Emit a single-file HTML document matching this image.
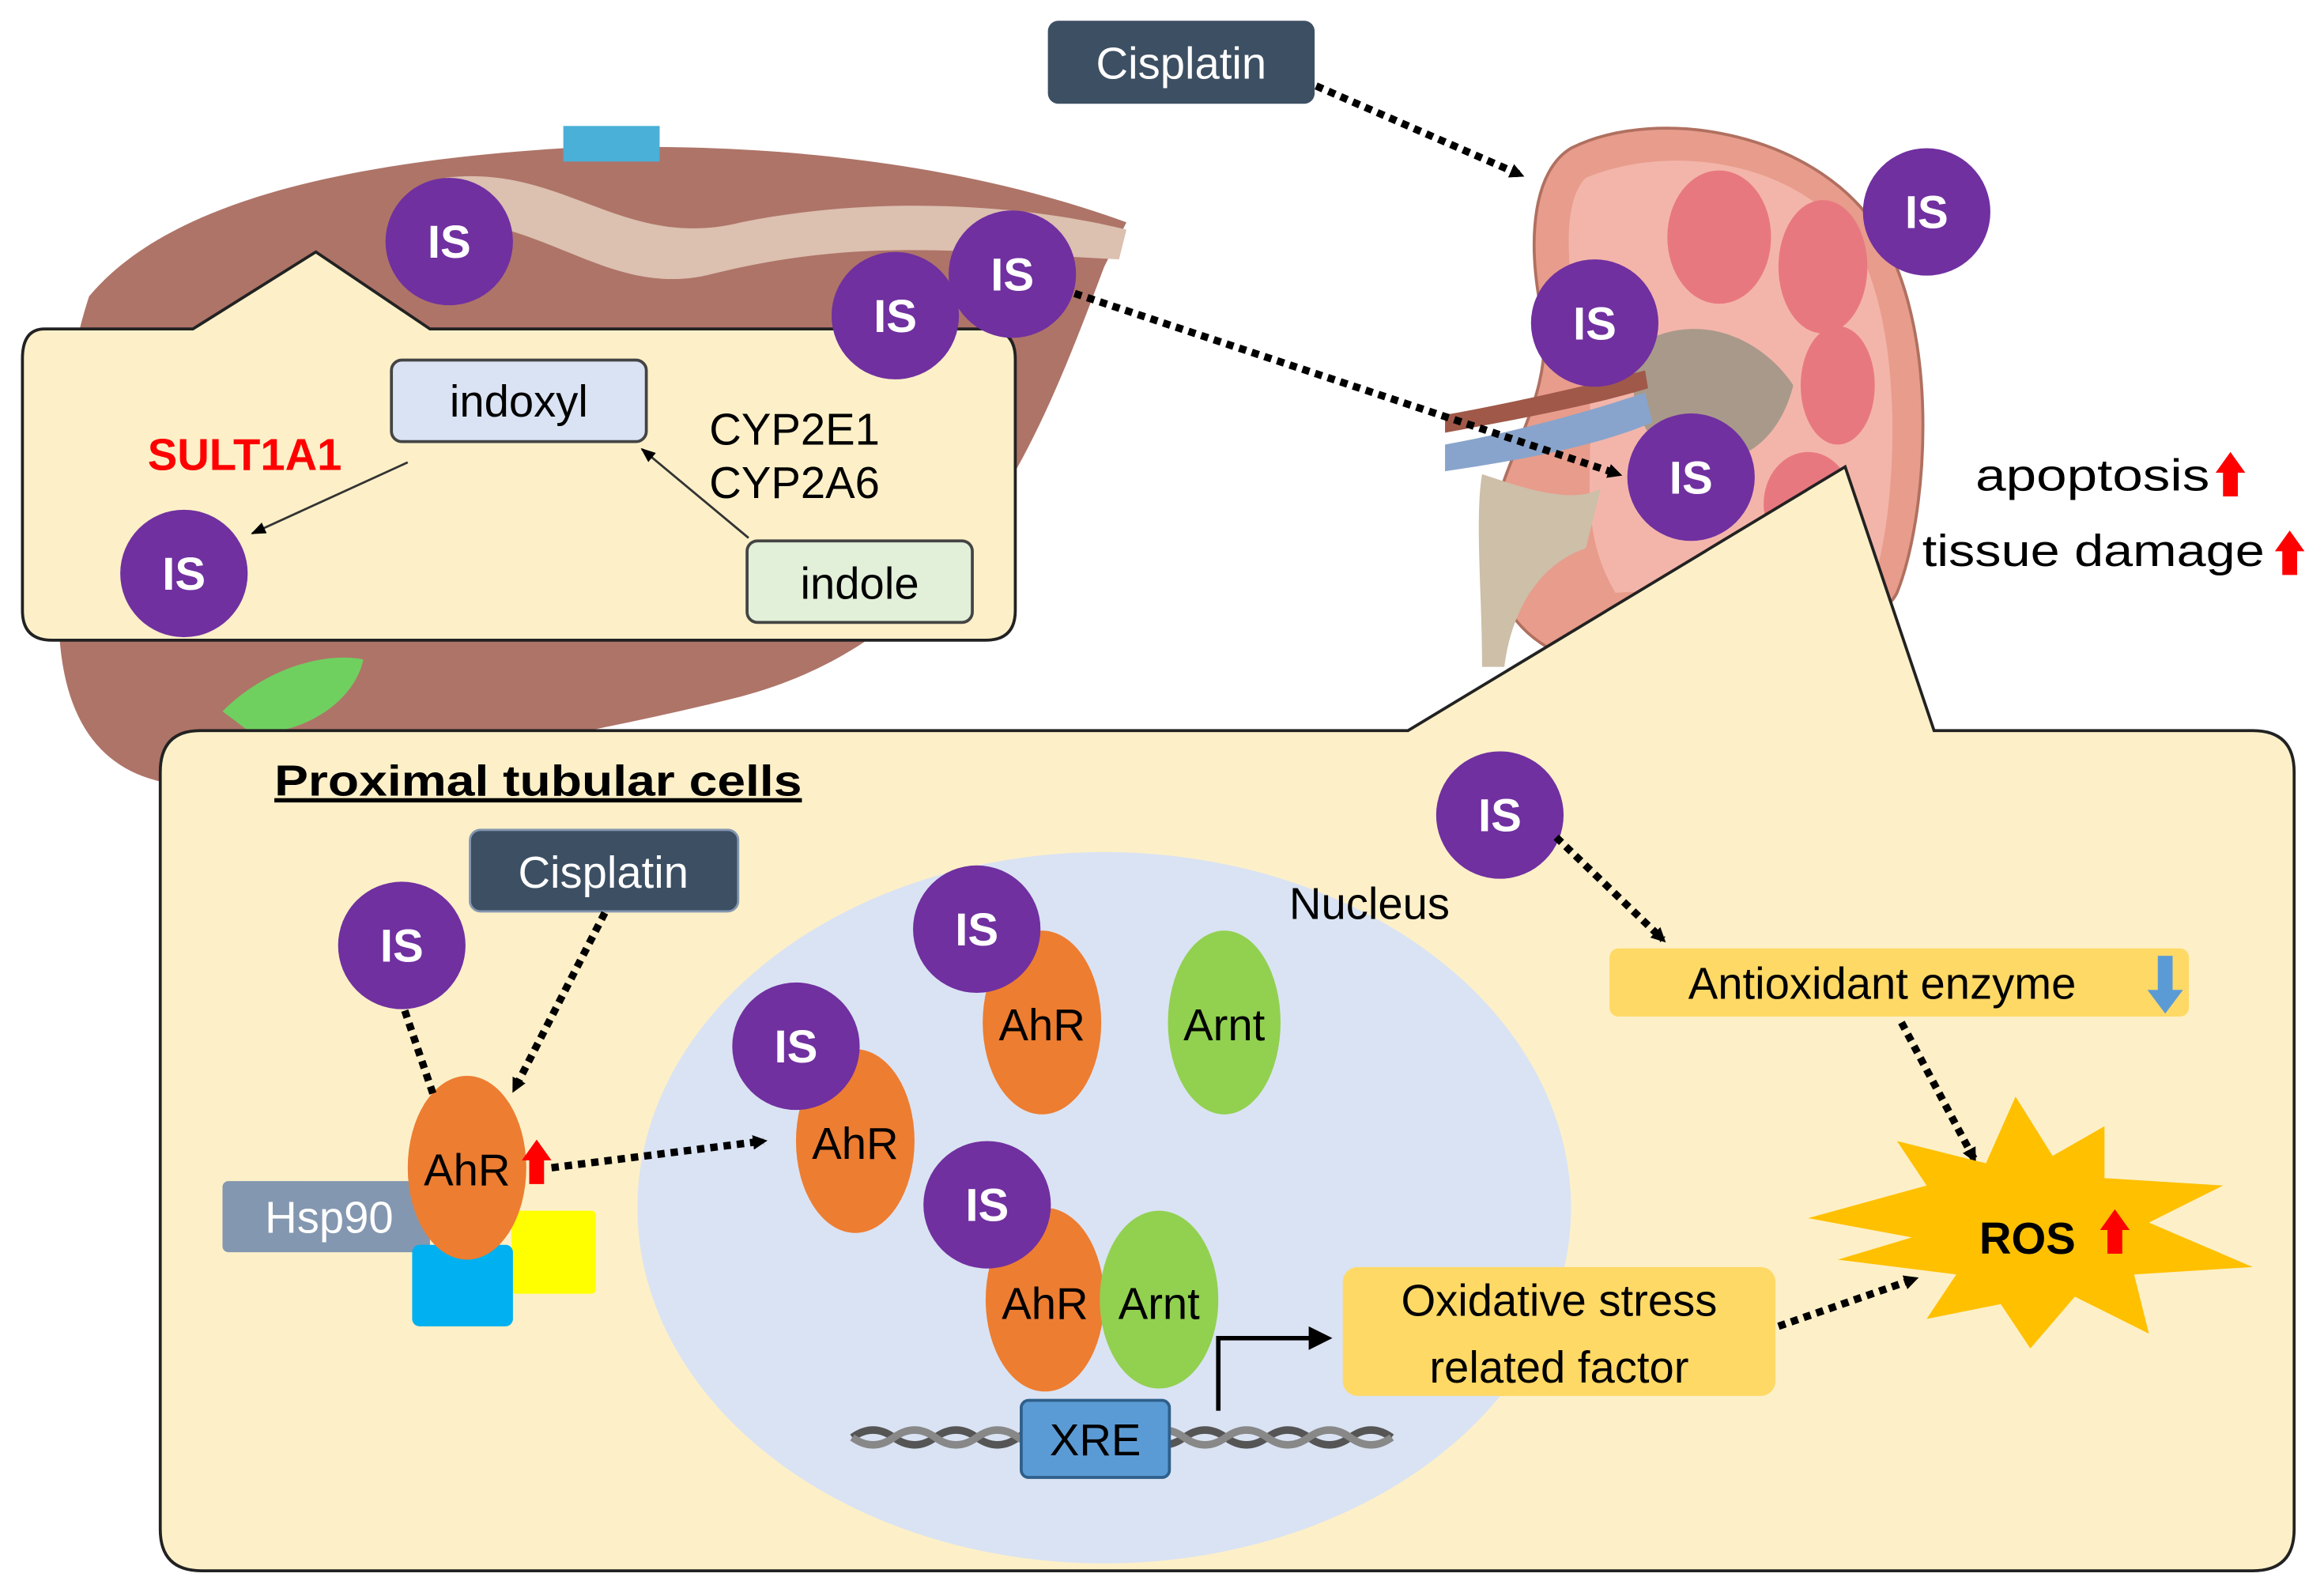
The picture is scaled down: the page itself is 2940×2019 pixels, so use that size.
<!DOCTYPE html>
<html><head><meta charset="utf-8"><style>html,body{margin:0;padding:0;background:#fff}svg{display:block}text{font-family:"Liberation Sans","DejaVu Sans",sans-serif}</style></head>
<body>
<svg width="2940" height="2019" viewBox="0 0 1568 1077" xmlns="http://www.w3.org/2000/svg">
<defs>
<marker id="ah" markerWidth="10" markerHeight="10" refX="7" refY="5" orient="auto" markerUnits="userSpaceOnUse"><path d="M0,0 L10,5 L0,10 Z" fill="#000" transform="scale(1.4) translate(-3,-1.4)"/></marker>
<marker id="ahs" markerWidth="12" markerHeight="12" refX="9" refY="4" orient="auto" markerUnits="userSpaceOnUse"><path d="M0,0 L10,4 L0,8 Z" fill="#000"/></marker>
<g id="is"><circle r="43" fill="#7030a0"/><text y="11" text-anchor="middle" font-size="31" font-weight="bold" fill="#fff">IS</text></g>
<g id="up"><path d="M-5,14 V-2 H-10 L0,-16 L10,-2 H5 V14 Z" fill="#ff0000"/></g>
</defs>
<!-- liver -->
<path d="M60,200 C110,140 220,110 380,100 C520,95 650,110 760,150 L745,180 C700,300 650,430 500,470 C380,500 250,520 150,530 C80,535 45,500 40,430 C35,350 40,260 60,200 Z" fill="#ae7468"/>
<path d="M300,120 C380,110 420,170 500,150 C600,130 700,140 760,155 L755,175 C650,170 580,160 480,185 C420,200 380,160 320,150 Z" fill="#dcc0b0"/>
<rect x="380" y="85" width="65" height="24" fill="#4ab0d8"/>
<path d="M150,480 C180,450 220,440 245,445 C240,470 210,495 170,495 Z" fill="#6fd060"/>
<!-- kidney -->
<path d="M1060,100 C1120,70 1230,90 1270,160 C1310,230 1300,350 1280,400 C1260,440 1120,450 1050,440 C1010,420 1000,380 1010,340 C1020,300 1050,260 1040,210 C1030,160 1035,115 1060,100 Z" fill="#e89c8c" stroke="#b07060" stroke-width="2"/>
<path d="M1070,120 C1130,95 1220,110 1255,170 C1285,230 1280,340 1265,390 L1090,400 C1060,350 1080,300 1070,250 C1060,200 1050,140 1070,120 Z" fill="#f3b5aa"/>
<ellipse cx="1160" cy="160" rx="35" ry="45" fill="#e8787f"/><ellipse cx="1230" cy="180" rx="30" ry="45" fill="#e8787f"/><ellipse cx="1240" cy="260" rx="25" ry="40" fill="#e8787f"/><ellipse cx="1220" cy="340" rx="30" ry="35" fill="#e8787f"/>
<path d="M1110,230 C1150,210 1190,230 1210,260 C1200,300 1170,320 1130,310 C1100,290 1095,250 1110,230 Z" fill="#a9998a"/>
<path d="M975,300 C1030,290 1080,275 1110,265 L1115,285 C1080,300 1030,310 975,318 Z" fill="#88a4cc"/>
<path d="M975,280 C1030,270 1080,258 1110,250 L1112,262 C1080,272 1030,282 975,292 Z" fill="#a05848"/>
<path d="M1000,320 C1030,330 1060,340 1080,330 L1070,370 C1040,380 1020,410 1015,450 L1000,450 C1000,400 995,350 1000,320 Z" fill="#cdbfa8"/>
<!-- Cisplatin top -->
<rect x="707" y="14" width="180" height="56" rx="7" fill="#3d4f63"/>
<text x="797" y="53" text-anchor="middle" font-size="30" fill="#fff">Cisplatin</text>
<line x1="888" y1="58" x2="1026" y2="118" stroke="#000" stroke-width="5" stroke-dasharray="5,4" marker-end="url(#ah)"/>
<!-- liver callout -->
<path d="M30,222 H130 L213,170 L290,222 H665 Q685,222 685,242 V412 Q685,432 665,432 H35 Q15,432 15,412 V242 Q15,222 30,222 Z" fill="#fdf0c8" stroke="#222" stroke-width="2"/>
<rect x="264" y="243" width="172" height="55" rx="7" fill="#dae3f3" stroke="#444" stroke-width="2"/>
<text x="350" y="281" text-anchor="middle" font-size="30">indoxyl</text>
<rect x="504" y="365" width="152" height="55" rx="7" fill="#e2efd9" stroke="#444" stroke-width="2"/>
<text x="580" y="404" text-anchor="middle" font-size="30">indole</text>
<text x="165" y="317" text-anchor="middle" font-size="30" font-weight="bold" fill="#ff0000">SULT1A1</text>
<text x="536" y="300" text-anchor="middle" font-size="30">CYP2E1</text>
<text x="536" y="336" text-anchor="middle" font-size="30">CYP2A6</text>
<line x1="505" y1="363" x2="433" y2="303" stroke="#333" stroke-width="1.5" marker-end="url(#ahs)"/>
<line x1="275" y1="312" x2="170" y2="360" stroke="#333" stroke-width="1.5" marker-end="url(#ahs)"/>
<use href="#is" x="303" y="163"/><use href="#is" x="604" y="213"/><use href="#is" x="683" y="185"/><use href="#is" x="124" y="387"/>
<line x1="725" y1="198" x2="1092" y2="320" stroke="#000" stroke-width="5" stroke-dasharray="5,4" marker-end="url(#ah)"/>
<use href="#is" x="1300" y="143"/><use href="#is" x="1076" y="218"/><use href="#is" x="1141" y="322"/>
<text x="1333" y="331" font-size="30" textLength="158" lengthAdjust="spacingAndGlyphs">apoptosis</text><use href="#up" x="1505" y="321"/>
<text x="1297" y="382" font-size="30" textLength="231" lengthAdjust="spacingAndGlyphs">tissue damage</text><use href="#up" x="1545" y="374"/>
<!-- big callout -->
<path d="M135,493 H950 L1245,315 L1305,493 H1520 Q1548,493 1548,521 V1032 Q1548,1060 1520,1060 H136 Q108,1060 108,1032 V521 Q108,493 135,493 Z" fill="#fdf0c8" stroke="#222" stroke-width="2"/>
<text x="185" y="537" font-size="29" font-weight="bold" text-decoration="underline" textLength="356" lengthAdjust="spacingAndGlyphs">Proximal tubular cells</text>
<ellipse cx="745" cy="815" rx="315" ry="240" fill="#dae3f3"/>
<text x="924" y="620" text-anchor="middle" font-size="30">Nucleus</text>
<rect x="317" y="560" width="181" height="55" rx="7" fill="#3d4f63" stroke="#8497b0" stroke-width="1.5"/>
<text x="407" y="599" text-anchor="middle" font-size="30" fill="#fff">Cisplatin</text>
<rect x="150" y="797" width="140" height="48" rx="4" fill="#8497b0"/>
<text x="222" y="832" text-anchor="middle" font-size="30" fill="#fff">Hsp90</text>
<rect x="345" y="817" width="57" height="56" rx="3" fill="#ffff00"/>
<rect x="278" y="840" width="68" height="55" rx="5" fill="#00b0f0"/>
<ellipse cx="315" cy="788" rx="40" ry="62" fill="#ed7d31"/>
<text x="315" y="800" text-anchor="middle" font-size="30">AhR</text>
<use href="#up" x="362" y="785"/>
<use href="#is" x="271" y="638"/>
<line x1="273" y1="682" x2="292" y2="738" stroke="#000" stroke-width="5" stroke-dasharray="5,4"/>
<line x1="408" y1="616" x2="347" y2="735" stroke="#000" stroke-width="5" stroke-dasharray="5,4" marker-end="url(#ah)"/>
<line x1="372" y1="788" x2="515" y2="770" stroke="#000" stroke-width="5" stroke-dasharray="5,4" marker-end="url(#ah)"/>
<!-- nucleus content -->
<ellipse cx="577" cy="770" rx="40" ry="62" fill="#ed7d31"/><text x="577" y="782" text-anchor="middle" font-size="30">AhR</text>
<ellipse cx="703" cy="690" rx="40" ry="62" fill="#ed7d31"/><text x="703" y="702" text-anchor="middle" font-size="30">AhR</text>
<ellipse cx="826" cy="690" rx="38" ry="62" fill="#92d050"/><text x="826" y="702" text-anchor="middle" font-size="30">Arnt</text>
<ellipse cx="705" cy="877" rx="40" ry="62" fill="#ed7d31"/>
<ellipse cx="782" cy="877" rx="40" ry="60" fill="#92d050"/>
<text x="705" y="890" text-anchor="middle" font-size="30">AhR</text><text x="782" y="890" text-anchor="middle" font-size="30">Arnt</text>
<use href="#is" x="537" y="706"/><use href="#is" x="659" y="627"/><use href="#is" x="666" y="813"/>
<path d="M575,970 q14,-10 28,0 t28,0 t28,0 t28,0 t28,0 t28,0 t28,0 t28,0 t28,0 t28,0 t28,0 t28,0 t28,0" fill="none" stroke="#555" stroke-width="5"/>
<path d="M575,970 q14,10 28,0 t28,0 t28,0 t28,0 t28,0 t28,0 t28,0 t28,0 t28,0 t28,0 t28,0 t28,0 t28,0" fill="none" stroke="#888" stroke-width="5"/>
<rect x="689" y="945" width="100" height="52" rx="5" fill="#5b9bd5" stroke="#2e5f8a" stroke-width="2"/>
<text x="739" y="982" text-anchor="middle" font-size="30">XRE</text>
<path d="M822,952 V903 H885" fill="none" stroke="#000" stroke-width="3"/><path d="M883,895 L899,903 L883,911 Z" fill="#000"/>
<rect x="906" y="855" width="292" height="87" rx="10" fill="#ffd966"/>
<text x="1052" y="888" text-anchor="middle" font-size="30">Oxidative stress</text>
<text x="1052" y="933" text-anchor="middle" font-size="30">related factor</text>
<rect x="1086" y="640" width="391" height="46" rx="6" fill="#ffd966"/>
<text x="1270" y="674" text-anchor="middle" font-size="30">Antioxidant enzyme</text>
<path d="M1456,645 V668 H1449 L1461,684 L1473,668 H1466 V645 Z" fill="#5b9bd5"/>
<use href="#is" x="1012" y="550"/>
<line x1="1050" y1="565" x2="1122" y2="634" stroke="#000" stroke-width="5" stroke-dasharray="5,4" marker-end="url(#ah)"/>
<line x1="1283" y1="690" x2="1332" y2="782" stroke="#000" stroke-width="5" stroke-dasharray="5,4" marker-end="url(#ah)"/>
<line x1="1200" y1="895" x2="1292" y2="863" stroke="#000" stroke-width="5" stroke-dasharray="5,4" marker-end="url(#ah)"/>
<path d="M1220,822 L1300,800 L1280,770 L1340,785 L1360,740 L1385,780 L1420,760 L1420,795 L1500,800 L1450,825 L1520,855 L1440,860 L1450,900 L1400,875 L1370,910 L1350,880 L1300,890 L1320,860 L1240,850 L1290,835 Z" fill="#ffc000"/>
<text x="1368" y="846" text-anchor="middle" font-size="30" font-weight="bold">ROS</text>
<use href="#up" x="1427" y="832"/>
</svg>
</body></html>
